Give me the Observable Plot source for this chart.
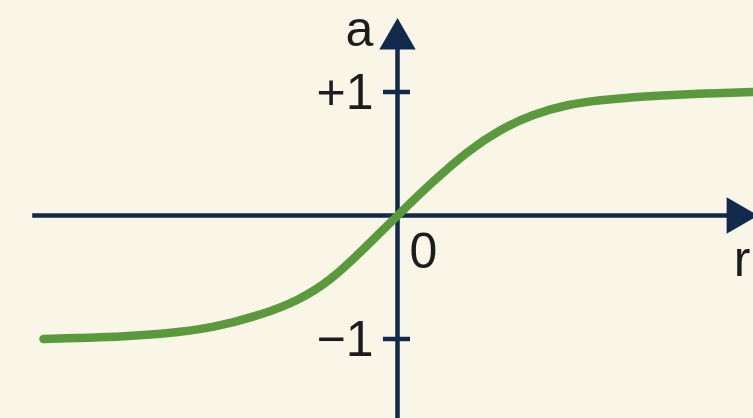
<!DOCTYPE html>
<html>
<head>
<meta charset="utf-8">
<script src="https://cdn.jsdelivr.net/npm/d3@7"></script>
<script src="https://cdn.jsdelivr.net/npm/@observablehq/plot@0.6"></script>
<style>
  html, body { margin: 0; padding: 0; background: #f9f6e8; overflow: hidden; }
  #chart svg { display: block; }
</style>
</head>
<body>
<div id="chart"></div>
<script>
// Saturating response a(r): input r, output a, levelling off at ±1
const rValues = [-2.95, -2.5, -1.95, -1.53, -1.12, -0.83, -0.56, -0.28, 0, 0.30, 0.58, 0.86, 1.13, 1.42, 1.69, 1.97, 2.25, 2.53, 2.97];
const aValues = [-1.0, -0.99, -0.96, -0.91, -0.80, -0.69, -0.53, -0.27, 0, 0.28, 0.52, 0.70, 0.82, 0.90, 0.935, 0.96, 0.975, 0.987, 1.0];

// Axis labels and ticks
const tickValues = [1, -1];
const tickLabels = ["+1", "\u22121"];
const originLabel = "0";
const xName = "r";
const yName = "a";

// Axis extents (data units)
const rAxisExtent = [-3.04, 2.83];
const aAxisExtent = [-1.75, 1.43];

const curveData = rValues.map((r, i) => ({r, a: aValues[i]}));
const ticks = tickValues.map((v, i) => ({v, label: tickLabels[i]}));

const ink = "#11294b";
const green = "#5b9a3c";
const font = "Liberation Sans, Arial, sans-serif";

const chart = Plot.plot({
  width: 753,
  height: 418,
  margin: 0,
  style: {background: "#f9f6e8", fontFamily: font},
  x: {domain: [-397 / 120, 356 / 120], axis: null},
  y: {domain: [-203 / 123.5, 215 / 123.5], axis: null},
  marks: [
    // x axis line and arrowhead
    Plot.ruleY([0], {x1: rAxisExtent[0], x2: rAxisExtent[1], stroke: ink, strokeWidth: 4.5}),
    Plot.dot([0], {x: rAxisExtent[1], y: 0, symbol: "triangle", r: 13.5, rotate: 90, fill: ink, stroke: "none"}),
    // y axis line and arrowhead
    Plot.ruleX([0], {y1: aAxisExtent[0], y2: aAxisExtent[1], stroke: ink, strokeWidth: 4.5}),
    Plot.dot([0], {x: 0, y: aAxisExtent[1], symbol: "triangle", r: 13.5, fill: ink, stroke: "none"}),
    // ±1 tick marks
    Plot.ruleY(ticks, {y: "v", x1: 0, x2: 0, insetLeft: -14, insetRight: -13, stroke: ink, strokeWidth: 4.5}),
    // response curve
    Plot.line(curveData, {x: "r", y: "a", curve: "basis", stroke: green, strokeWidth: 8.5, strokeLinecap: "round", strokeLinejoin: "round"}),
    // tick labels
    Plot.text(ticks, {x: 0, y: "v", text: "label", dx: -24, dy: 1, textAnchor: "end", fontSize: 50, fill: "#1c1c1c"}),
    Plot.text([originLabel], {x: 0, y: 0, text: d => d, dx: 26, dy: 36, fontSize: 50, fill: "#1c1c1c"}),
    // axis names
    Plot.text([yName], {x: 0, y: aAxisExtent[1], text: d => d, dx: -38, dy: -9, fontSize: 50, fill: "#1c1c1c"}),
    Plot.text([xName], {x: rAxisExtent[1], y: 0, text: d => d, dx: 5, dy: 44, fontSize: 50, fill: "#1c1c1c"})
  ]
});

document.getElementById("chart").appendChild(chart);
</script>
</body>
</html>
